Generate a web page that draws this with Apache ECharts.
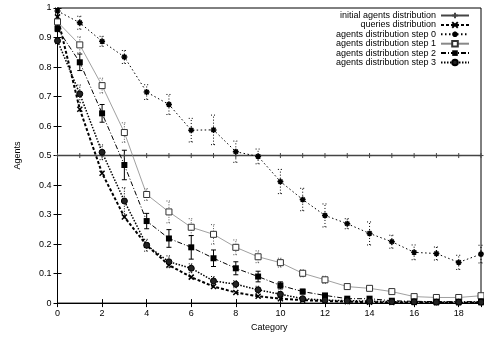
<!DOCTYPE html>
<html><head><meta charset="utf-8">
<script src="https://cdn.jsdelivr.net/npm/echarts@6/dist/echarts.min.js"></script>
<style>html,body{margin:0;padding:0;background:#fff}#c{width:484px;height:337px}</style>
</head><body><div id="c"></div>
<script>
var categories = [0,1,2,3,4,5,6,7,8,9,10,11,12,13,14,15,16,17,18,19];
var xTicks = [0,2,4,6,8,10,12,14,16,18];
var yTicks = [0,0.1,0.2,0.3,0.4,0.5,0.6,0.7,0.8,0.9,1];
var initialDist = [0.5,0.5,0.5,0.5,0.5,0.5,0.5,0.5,0.5,0.5,0.5,0.5,0.5,0.5,0.5,0.5,0.5,0.5,0.5,0.5];
var queriesDist = [0.97,0.657,0.44,0.292,0.196,0.129,0.088,0.056,0.036,0.023,0.015,0.010,0.007,0.005,0.003,0.002,0.002,0.001,0.001,0.001];
var step0 = [0.99,0.950,0.887,0.834,0.715,0.673,0.586,0.587,0.513,0.497,0.412,0.351,0.297,0.269,0.236,0.208,0.172,0.168,0.138,0.166];
var err0  = [0.01,0.022,0.017,0.022,0.025,0.034,0.04,0.05,0.036,0.025,0.041,0.038,0.039,0.017,0.039,0.022,0.025,0.022,0.024,0.03];
var step1 = [0.953,0.875,0.737,0.578,0.368,0.309,0.257,0.233,0.189,0.157,0.137,0.101,0.079,0.056,0.050,0.039,0.022,0.019,0.019,0.025];
var err1  = [0.01,0.027,0.025,0.033,0.02,0.037,0.029,0.033,0.025,0.02,0.015,0.012,0.012,0.008,0.008,0.006,0.005,0.004,0.004,0.005];
var step2 = [0.93,0.816,0.643,0.468,0.278,0.219,0.189,0.152,0.118,0.090,0.060,0.039,0.026,0.015,0.015,0.008,0.006,0.005,0.005,0.005];
var err2  = [0.01,0.028,0.03,0.05,0.026,0.03,0.04,0.028,0.022,0.018,0.012,0.008,0.006,0.005,0.005,0.004,0.003,0.003,0.003,0.003];
var step3 = [0.889,0.709,0.511,0.346,0.196,0.140,0.118,0.075,0.064,0.045,0.030,0.015,0.010,0.008,0.007,0.005,0.004,0.003,0.003,0.003];
var err3  = [0.01,0.03,0.025,0.045,0.02,0.02,0.015,0.015,0.012,0.012,0.01,0.006,0.005,0.004,0.003,0.003,0.002,0.002,0.002,0.002];

var names = ['initial agents distribution','queries distribution','agents distribution step 0','agents distribution step 1','agents distribution step 2','agents distribution step 3'];
var FONT = 'Liberation Sans, Arial, sans-serif';

function pts(arr){ return categories.map(function(c,i){ return [c, arr[i]]; }); }
function errPts(arr, e){ return categories.map(function(c,i){ return [c, arr[i]-e[i], arr[i]+e[i]]; }); }

var PLUS = 'path://M0,5L10,5M5,0L5,10';
var CROSS = 'path://M0,0L10,10M10,0L0,10';
var STAR = 'path://M0,5L10,5M5,0L5,10M1.5,1.5L8.5,8.5M8.5,1.5L1.5,8.5';

function errSeries(arr, e, color, dash){
  return {
    type:'custom', silent:true, z:1,
    data: errPts(arr, e),
    encode:{x:0, y:[1,2]},
    renderItem: function(params, api){
      var x = api.value(0);
      var a = api.coord([x, api.value(1)]);
      var b = api.coord([x, api.value(2)]);
      var st = {stroke:color, lineWidth:1, lineDash: dash, fill:null};
      return {type:'group', children:[
        {type:'line', shape:{x1:a[0],y1:a[1],x2:b[0],y2:b[1]}, style:st},
        {type:'line', shape:{x1:a[0]-2.5,y1:a[1],x2:a[0]+2.5,y2:a[1]}, style:st},
        {type:'line', shape:{x1:b[0]-2.5,y1:b[1],x2:b[0]+2.5,y2:b[1]}, style:st}
      ]};
    }
  };
}

var chart = echarts.init(document.getElementById('c'));
chart.setOption({
  animation:false,
  backgroundColor:'#fff',
  textStyle:{fontFamily:FONT},
  grid:{left:57.5, right:2.5, top:8, bottom:32, show:true, borderColor:'#000', borderWidth:1},
  legend:{
    data:names, orient:'vertical', right:14, top:11, align:'right', padding:0,
    itemWidth:28, itemHeight:7, itemGap:0.4,
    textStyle:{fontFamily:FONT, fontSize:9, color:'#000', lineHeight:9}
  },
  xAxis:[{
    type:'value', min:0, max:19, interval:2,
    name:'Category', nameLocation:'middle', nameGap:18,
    nameTextStyle:{fontFamily:FONT, fontSize:9, color:'#000'},
    axisLine:{lineStyle:{color:'#000'}}, splitLine:{show:false},
    axisTick:{inside:true, length:4, lineStyle:{color:'#000'}},
    axisLabel:{fontFamily:FONT, fontSize:9, color:'#000', margin:6,
      formatter:function(v){ return xTicks.indexOf(v)>=0 ? String(v) : ''; }}
  },{
    type:'value', position:'top', min:0, max:19, interval:2,
    axisLine:{lineStyle:{color:'#000'}}, splitLine:{show:false},
    axisTick:{inside:true, length:4, lineStyle:{color:'#000'}}, axisLabel:{show:false}
  }],
  yAxis:[{
    type:'value', min:0, max:1, interval:0.1,
    name:'Agents', nameLocation:'middle', nameGap:35, nameRotate:90,
    nameTextStyle:{fontFamily:FONT, fontSize:9, color:'#000'},
    axisLine:{lineStyle:{color:'#000'}}, splitLine:{show:false},
    axisTick:{inside:true, length:4, lineStyle:{color:'#000'}},
    axisLabel:{fontFamily:FONT, fontSize:9, color:'#000', margin:6,
      formatter:function(v){ var r=Math.round(v*10)/10; return yTicks.indexOf(r)>=0 ? String(r) : ''; }}
  },{
    type:'value', position:'right', min:0, max:1, interval:0.1,
    axisLine:{lineStyle:{color:'#000'}}, splitLine:{show:false},
    axisTick:{inside:true, length:4, lineStyle:{color:'#000'}}, axisLabel:{show:false}
  }],
  series:[
    errSeries(step0, err0, '#000', [1,2]),
    errSeries(step1, err1, '#555', [1,1.5]),
    errSeries(step2, err2, '#000', null),
    errSeries(step3, err3, '#000', [1,1.5]),
    {name:names[0], type:'line', data:pts(initialDist), z:3,
     symbol:PLUS, symbolSize:5, showSymbol:true,
     itemStyle:{color:'#444', borderColor:'#444', borderWidth:1},
     lineStyle:{color:'#444', width:1.5, type:'solid'}},
    {name:names[1], type:'line', data:pts(queriesDist), z:3,
     symbol:CROSS, symbolSize:5,
     itemStyle:{color:'#000', borderColor:'#000', borderWidth:1.5},
     lineStyle:{color:'#000', width:2, type:[3,2]}},
    {name:names[2], type:'line', data:pts(step0), z:3,
     symbol:STAR, symbolSize:6,
     itemStyle:{color:'#000', borderColor:'#000', borderWidth:1.5},
     lineStyle:{color:'#000', width:1, type:[1.5,2.5]}},
    {name:names[3], type:'line', data:pts(step1), z:3,
     symbol:'rect', symbolSize:6,
     itemStyle:{color:'#fff', borderColor:'#333', borderWidth:1},
     lineStyle:{color:'#888', width:0.8, type:'solid'}},
    {name:names[4], type:'line', data:pts(step2), z:3,
     symbol:'rect', symbolSize:6,
     itemStyle:{color:'#000', borderColor:'#000', borderWidth:0},
     lineStyle:{color:'#000', width:1, type:[5,2,1,2]}},
    {name:names[5], type:'line', data:pts(step3), z:3,
     symbol:'circle', symbolSize:6,
     itemStyle:{color:'#222', borderColor:'#000', borderWidth:1},
     lineStyle:{color:'#000', width:1.5, type:[1.5,1.5]}}
  ]
});
</script></body></html>
